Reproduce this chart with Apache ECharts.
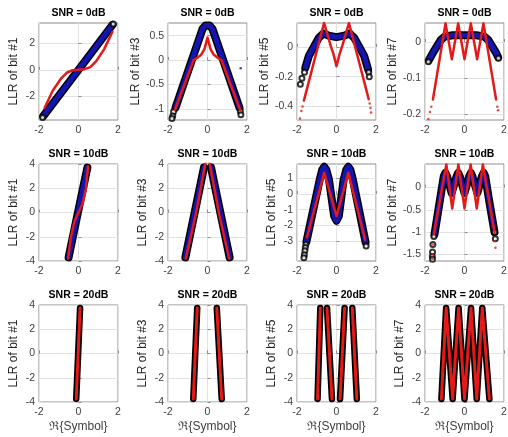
<!DOCTYPE html>
<html><head><meta charset="utf-8">
<script src="https://cdn.jsdelivr.net/npm/echarts@6/dist/echarts.min.js"></script>
<style>html,body{margin:0;padding:0;background:#fff}#c{width:508px;height:437px}</style>
</head><body><div id="c"></div>
<script>
// ---------- data ----------
const snrTitles = ['SNR = 0dB', 'SNR = 10dB', 'SNR = 20dB'];
const bitLabels = ['LLR of bit #1', 'LLR of bit #3', 'LLR of bit #5', 'LLR of bit #7'];
const xLabel = 'ℜ{Symbol}';
const xTicks = [-2, 0, 2];

const yMin = [-3.75, -1.23, -0.49, -0.217,  -4, -4, -4.25, -1.65,  -4, -4, -4, -4];
const yMax = [3.5, 0.76, 0.16, 0.053,  4, 4, 1.9, 0.53,  4, 4, 4, 4];
const yTicks = [
  [-2, 0, 2], [-1, -0.5, 0, 0.5], [-0.4, -0.2, 0], [-0.2, -0.1, 0],
  [-4, -2, 0, 2, 4], [-4, -2, 0, 2, 4], [-3, -2, -1, 0, 1], [-1.5, -1, -0.5, 0],
  [-4, -2, 0, 2, 4], [-4, -2, 0, 2, 4], [-4, -2, 0, 2, 4], [-4, -2, 0, 2, 4]
];

// SNR = 0 dB
const band11 = [[-1.78,-3.45],[0,0],[1.72,3.36]];
const circ11 = [[-1.82,-3.56],[1.76,3.42]];
const red11 = [[-1.72,-2.85],[-1.3,-1.55],[-0.9,-0.68],[-0.6,-0.22],[-0.3,-0.03],[0,0],[0.3,0.05],[0.6,0.2],[0.9,0.65],[1.3,1.55],[1.72,2.85]];

const band12 = [[-1.62,-0.98],[-0.25,0.64],[-0.1,0.71],[0,0.73],[0.1,0.71],[0.25,0.64],[1.62,-0.98]];
const circ12 = [[-1.72,-1.06],[-1.76,-1.15],[-1.8,-1.2],[1.66,-1.05],[1.69,-1.12]];
const red12 = [[-1.65,-1.02],[-0.7,0.0],[-0.5,0.05],[-0.3,0.12],[-0.15,0.23],[0,0.46],[0.15,0.23],[0.3,0.12],[0.5,0.05],[0.7,0.0],[1.65,-1.02]];
const blueDot12 = [[1.68,-0.17]];

const band13 = [[-1.58,-0.14],[-1.4,-0.06],[-1.15,0.0],[-0.9,0.06],[-0.66,0.09],[-0.4,0.075],[0,0.065],[0.4,0.075],[0.66,0.09],[0.9,0.06],[1.15,0.0],[1.4,-0.06],[1.6,-0.15]];
const circ13 = [[-1.62,-0.17],[-1.75,-0.21],[-1.83,-0.25],[1.63,-0.17],[1.66,-0.2]];
const red13 = [[-1.65,-0.36],[-0.63,0.16],[-0.45,0.08],[-0.3,0.01],[-0.15,-0.05],[0,-0.13],[0.15,-0.05],[0.3,0.01],[0.45,0.08],[0.63,0.16],[1.63,-0.35]];
const redDots13 = [[-1.72,-0.4],[-1.78,-0.43],[-1.85,-0.48],[1.68,-0.38],[1.72,-0.41],[1.75,-0.44]];

const band14 = [[-1.8,-0.05],[-1.6,-0.03],[-1.4,-0.012],[-1.2,0.006],[-1.0,0.015],[-0.6,0.019],[0,0.019],[0.6,0.019],[1.0,0.015],[1.2,0.006],[1.4,-0.012],[1.6,-0.03],[1.7,-0.042]];
const circ14 = [[-1.83,-0.055],[1.72,-0.045]];
const red14 = [[-1.6,-0.16],[-0.96,0.052],[-0.64,-0.048],[-0.32,0.052],[0,-0.048],[0.32,0.052],[0.64,-0.048],[0.96,0.052],[1.6,-0.16]];
const redDots14 = [[-1.68,-0.18],[-1.75,-0.195],[-1.83,-0.214],[1.66,-0.18],[1.7,-0.19]];

// SNR = 10 dB
const band21 = [[-0.5,-3.7],[-0.03,0],[0.45,3.7]];
const red21 = [[-0.53,-3.8],[-0.38,-2],[-0.2,-0.7],[0,0],[0.2,0.7],[0.38,2],[0.48,3.8]];

const band22 = [[[-1.12,-3.7],[-0.18,3.7]], [[0.18,3.7],[1.12,-3.7]]];
const red22 = [[-1.1,-3.8],[-0.82,-1.8],[-0.6,-0.2],[-0.4,1.5],[0,5.0],[0.4,1.5],[0.6,-0.2],[0.82,-1.8],[1.1,-3.8]];

const band23 = [[-1.52,-3.0],[-0.85,0.9],[-0.72,1.55],[-0.62,1.72],[-0.52,1.55],[-0.38,0.9],[-0.12,-1.4],[0,-1.7],[0.12,-1.4],[0.36,0.9],[0.5,1.55],[0.6,1.72],[0.7,1.55],[0.83,0.9],[1.47,-3.05]];
const circ23 = [[-1.55,-3.2],[-1.58,-3.4],[-1.6,-3.6],[-1.63,-3.85],[-1.65,-4.05],[1.5,-3.3]];
const red23 = [[-1.5,-2.75],[-0.62,1.35],[0,-1.4],[0.6,1.35],[1.45,-2.9]];

const band24 = [[-1.52,-1.05],[-1.25,-0.3],[-1.05,0.25],[-0.97,0.33],[-0.88,0.25],[-0.65,-0.12],[-0.4,0.25],[-0.32,0.33],[-0.24,0.25],[0,-0.12],[0.24,0.25],[0.32,0.33],[0.4,0.25],[0.65,-0.12],[0.88,0.25],[0.97,0.33],[1.05,0.25],[1.25,-0.3],[1.52,-1.0]];
const circ24 = [[-1.55,-1.1],[-1.6,-1.28],[-1.62,-1.45],[-1.63,-1.55],[-1.62,-1.61],[1.52,-1.0],[1.56,-1.15]];
const red24 = [[-1.55,-1.05],[-0.92,0.52],[-0.62,-0.47],[-0.31,0.52],[0,-0.47],[0.31,0.52],[0.62,-0.47],[0.93,0.52],[1.52,-1.0]];
const redDots24 = [[-1.6,-1.28],[-1.62,-1.5],[-1.62,-1.6],[1.55,-1.2],[1.57,-1.35]];

// SNR = 20 dB (segments)
const seg31 = [[[-0.115,-3.75],[0.08,3.75]]];
const seg32 = [[[-0.72,-3.75],[-0.52,3.75]], [[0.47,3.75],[0.72,-3.75]]];
const seg33 = [[[-0.96,-3.75],[-0.82,3.75]], [[-0.48,3.75],[-0.23,-3.75]], [[0.18,-3.75],[0.41,3.75]], [[0.8,3.75],[1.03,-3.75]]];
const seg34 = [[[-1.17,-3.75],[-0.93,3.75],[-0.6,-3.75],[-0.3,3.75],[0,-3.75],[0.33,3.75],[0.62,-3.75],[0.9,3.75],[1.26,-3.75]]];

// ---------- layout / styles ----------
const FONT = '"Liberation Sans", Arial, sans-serif';
const colLeft = [39, 168, 297, 425];
const rowTop = [23, 164, 305];
const W = 79, H = 97;
const BLACK = '#000000', BLUE = '#1414b0', RED = '#e31a1a';

const panels = [
  {band:[band11], red:[red11], circ:circ11},
  {band:[band12], red:[red12], circ:circ12, blue:blueDot12},
  {band:[band13], red:[red13], circ:circ13, rdots:redDots13},
  {band:[band14], red:[red14], circ:circ14, rdots:redDots14},
  {band:[band21], red:[red21]},
  {band:band22, red:[red22]},
  {band:[band23], red:[red23], circ:circ23},
  {band:[band24], red:[red24], circ:circ24, rdots:redDots24},
  {band:seg31, red:seg31, high:true},
  {band:seg32, red:seg32, high:true},
  {band:seg33, red:seg33, high:true},
  {band:seg34, red:seg34, high:true}
];

const grid = [], xAxis = [], yAxis = [], title = [], series = [];
for (let i = 0; i < 12; i++) {
  const r = Math.floor(i / 4), c = i % 4;
  grid.push({left: colLeft[c], top: rowTop[r], width: W, height: H, show: true,
    borderColor: '#8c8c8c', borderWidth: 1, backgroundColor: '#fff', containLabel: false, outerBoundsMode: 'none'});
  xAxis.push({gridIndex: i, type: 'value', min: -2, max: 2,
    axisLine: {show: false},
    axisTick: {show: true, inside: true, length: 3, customValues: xTicks, lineStyle: {color: '#8c8c8c'}},
    axisLabel: {customValues: xTicks, margin: 5, fontSize: 10.5, color: '#404040', fontFamily: FONT},
    splitLine: {show: true, lineStyle: {color: '#e2e2e2', width: 1}},
    name: r === 2 ? xLabel : '', nameLocation: 'middle', nameGap: 19,
    nameTextStyle: {fontSize: 12, color: '#404040', fontFamily: FONT}
  });
  yAxis.push({gridIndex: i, type: 'value', min: yMin[i], max: yMax[i],
    axisLine: {show: false},
    axisTick: {show: true, inside: true, length: 3, customValues: yTicks[i], lineStyle: {color: '#8c8c8c'}},
    axisLabel: {customValues: yTicks[i], margin: 4, fontSize: 10.5, color: '#404040', fontFamily: FONT,
      formatter: v => String(Math.round(v * 1000) / 1000)},
    splitLine: {show: true, lineStyle: {color: '#e2e2e2', width: 1}},
    name: bitLabels[c], nameLocation: 'middle', nameRotate: 90, nameGap: 19,
    nameTextStyle: {fontSize: 12, color: '#262626', fontFamily: FONT}
  });
  title.push({text: snrTitles[r], left: colLeft[c] + W / 2, top: rowTop[r] - 15, textAlign: 'center', padding: 0,
    textStyle: {fontSize: 10.5, fontWeight: 'bold', color: '#000', fontFamily: FONT}});

  const p = panels[i];
  const base = {xAxisIndex: i, yAxisIndex: i, silent: true, animation: false};
  p.band.forEach(poly => {
    series.push(Object.assign({type: 'line', data: poly, showSymbol: false, clip: true,
      lineStyle: {color: BLACK, width: p.high ? 6.5 : 8, cap: 'round', join: 'round'}, z: 2}, base));
    if (!p.high) series.push(Object.assign({type: 'line', data: poly, showSymbol: false, clip: true,
      lineStyle: {color: BLUE, width: 5, cap: 'round', join: 'round'}, z: 3}, base));
  });
  if (p.circ) series.push(Object.assign({type: 'scatter', data: p.circ, symbol: 'emptyCircle', symbolSize: 5,
    itemStyle: {color: BLACK, borderColor: BLACK, borderWidth: 1.2}, z: 4}, base));
  if (p.blue) series.push(Object.assign({type: 'scatter', data: p.blue, symbol: 'circle', symbolSize: 2.5,
    itemStyle: {color: BLUE}, z: 4}, base));
  p.red.forEach(poly => {
    series.push(Object.assign({type: 'line', data: poly, showSymbol: false, clip: true,
      lineStyle: {color: RED, width: p.high ? 3 : 2.5, cap: 'round', join: 'round'}, z: 5}, base));
  });
  if (p.rdots) series.push(Object.assign({type: 'scatter', data: p.rdots, symbol: 'circle', symbolSize: 2.5,
    itemStyle: {color: RED}, z: 5}, base));
}

const chart = echarts.init(document.getElementById('c'), null, {renderer: 'canvas'});
chart.setOption({backgroundColor: '#fff', animation: false, grid, xAxis, yAxis, title, series});
</script></body></html>
